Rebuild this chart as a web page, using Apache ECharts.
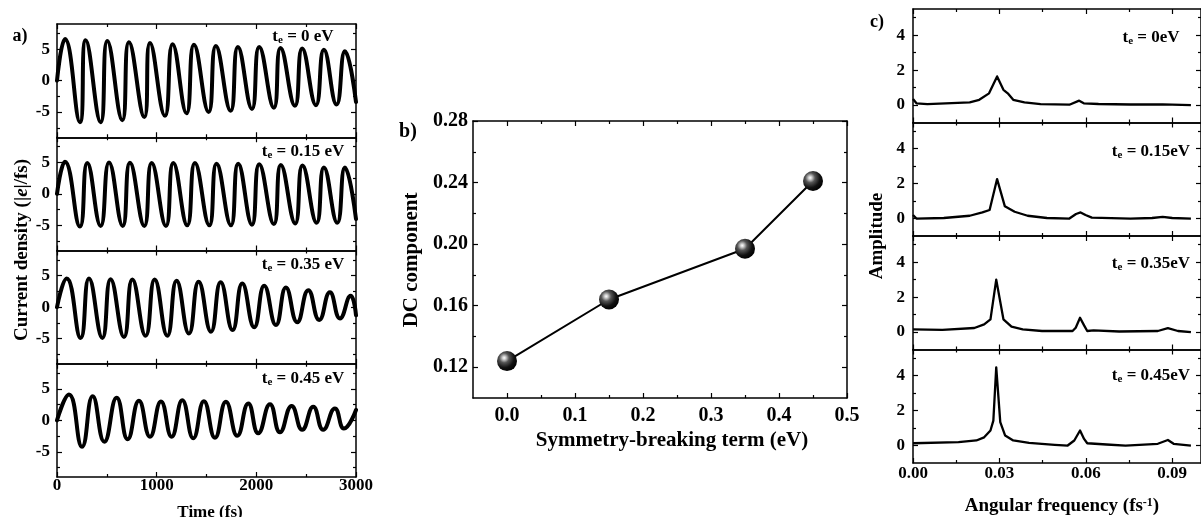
<!DOCTYPE html>
<html><head><meta charset="utf-8">
<script src="https://cdn.jsdelivr.net/npm/echarts@6/dist/echarts.min.js"></script>
<style>html,body{margin:0;padding:0;background:#fff}#c{width:1201px;height:517px}</style>
</head><body><div id="c"></div>
<script>
// ---------- DATA ----------
// Panel a: current density vs time (extrema)
const timeTe000 = [0, 80, 230, 288, 438, 505, 655, 722, 876, 933, 1083, 1160, 1300, 1374, 1521, 1594, 1742, 1815, 1956, 2029, 2176, 2243, 2387, 2460, 2598, 2678, 2805, 2889, 3000];
const currTe000 = [0, 6.6, -6.6, 6.4, -6.6, 6.3, -6.3, 6.1, -5.8, 6.0, -5.6, 5.8, -5.2, 5.7, -5.0, 5.5, -4.8, 5.35, -4.5, 5.35, -4.3, 5.2, -4.0, 5.1, -3.9, 4.9, -3.8, 4.65, -3.4];
const timeTe015 = [0, 80, 230, 304, 438, 522, 659, 732, 876, 950, 1093, 1167, 1307, 1384, 1528, 1601, 1745, 1818, 1956, 2029, 2176, 2246, 2390, 2463, 2605, 2678, 2812, 2889, 3000];
const currTe015 = [0, 5.1, -5.2, 4.9, -5.1, 5.0, -5.1, 4.95, -5.1, 4.9, -5.1, 4.9, -5.0, 4.9, -5.0, 4.8, -5.0, 4.8, -4.9, 4.7, -4.8, 4.6, -4.7, 4.5, -4.6, 4.2, -4.6, 4.2, -4.0];
const timeTe035 = [0, 97, 237, 321, 455, 538, 672, 756, 889, 980, 1107, 1200, 1324, 1421, 1545, 1642, 1762, 1859, 1979, 2079, 2197, 2297, 2410, 2521, 2631, 2738, 2839, 2946, 3000];
const currTe035 = [0, 4.55, -4.9, 4.55, -4.9, 4.45, -4.75, 4.4, -4.55, 4.4, -4.55, 4.2, -4.2, 4.05, -3.9, 3.95, -3.65, 3.75, -3.2, 3.4, -2.85, 3.1, -2.4, 2.7, -2.05, 2.35, -1.8, 1.8, -1.3];
const timeTe045 = [0, 120, 251, 358, 475, 599, 709, 822, 933, 1043, 1150, 1257, 1367, 1474, 1585, 1695, 1809, 1919, 2019, 2137, 2237, 2354, 2460, 2571, 2671, 2788, 2879, 3000];
const currTe045 = [0, 4.1, -4.2, 3.85, -3.4, 3.6, -3.0, 3.1, -2.6, 3.0, -2.6, 3.2, -2.85, 3.05, -2.75, 2.95, -2.45, 2.7, -2.05, 2.55, -1.9, 2.3, -1.5, 2.15, -1.5, 1.9, -1.3, 1.65];

// Panel b: DC component
const symTerm = [0, 0.15, 0.35, 0.45];
const dcComp = [0.124, 0.164, 0.197, 0.241];

// Panel c: amplitude spectra
const freqTe000 = [0, 0.0012, 0.005, 0.0197, 0.023, 0.0264, 0.0292, 0.0314, 0.0329, 0.0348, 0.0387, 0.0443, 0.0543, 0.0577, 0.0593, 0.0644, 0.0755, 0.0867, 0.0965];
const ampTe000 = [0.35, 0.1, 0.05, 0.15, 0.3, 0.67, 1.64, 0.87, 0.67, 0.3, 0.15, 0.05, 0.02, 0.25, 0.1, 0.06, 0.03, 0.04, 0.0];
const freqTe015 = [0, 0.0012, 0.0107, 0.0197, 0.0241, 0.0266, 0.0292, 0.0319, 0.0353, 0.0398, 0.0465, 0.0543, 0.0566, 0.0582, 0.0599, 0.0621, 0.0755, 0.083, 0.0867, 0.09, 0.0965];
const ampTe015 = [0.2, 0.0, 0.03, 0.16, 0.35, 0.49, 2.26, 0.7, 0.39, 0.16, 0.03, 0.0, 0.26, 0.35, 0.2, 0.05, 0.0, 0.03, 0.1, 0.03, 0.0];
const freqTe035 = [0, 0.0102, 0.0213, 0.0247, 0.0269, 0.0289, 0.0314, 0.0342, 0.0381, 0.0448, 0.0554, 0.0565, 0.058, 0.0594, 0.0605, 0.0627, 0.0716, 0.085, 0.0885, 0.092, 0.0965];
const ampTe035 = [0.15, 0.12, 0.23, 0.44, 0.73, 3.0, 0.73, 0.31, 0.15, 0.06, 0.06, 0.25, 0.82, 0.38, 0.06, 0.1, 0.03, 0.06, 0.22, 0.06, 0.0];
const freqTe045 = [0, 0.0158, 0.022, 0.0247, 0.0269, 0.0279, 0.0289, 0.0303, 0.032, 0.0348, 0.0403, 0.0492, 0.0537, 0.056, 0.058, 0.0594, 0.0605, 0.0672, 0.0738, 0.085, 0.0885, 0.0905, 0.0965];
const ampTe045 = [0.13, 0.19, 0.29, 0.47, 0.86, 1.43, 4.48, 1.34, 0.57, 0.29, 0.15, 0.04, 0.0, 0.29, 0.86, 0.38, 0.13, 0.06, 0.0, 0.1, 0.32, 0.1, 0.0];

// Labels and ticks
const teLabelsA = ['0 eV', '0.15 eV', '0.35 eV', '0.45 eV'];
const teLabelsC = ['0eV', '0.15eV', '0.35eV', '0.45eV'];
const ticksAxMajor = [0, 1000, 2000, 3000];
const ticksAxMinor = [500, 1500, 2500];
const ticksAyMajor = [-5, 0, 5];
const ticksAyMinor = [-7.5, -2.5, 2.5, 7.5];
const ticksBxMajor = [0, 0.1, 0.2, 0.3, 0.4, 0.5];
const ticksBxMinor = [0.05, 0.15, 0.25, 0.35, 0.45];
const ticksByMajor = [0.12, 0.16, 0.20, 0.24, 0.28];
const ticksByMinor = [0.14, 0.18, 0.22, 0.26];
const ticksCxMajor = [0, 0.03, 0.06, 0.09];
const ticksCxMinor = [0.015, 0.045, 0.075];
const ticksCyMajor = [0, 2, 4];
const ticksCyMinor = [1, 3, 5];

// ---------- BUILD ----------
const FONT = '"Liberation Serif", "Times New Roman", serif';
const grids = [], xAxes = [], yAxes = [], series = [], graphics = [];

function axisSet(list, gi, cfg, pos, major, showLabel) {
  list.push({
    type: 'value', gridIndex: gi, min: cfg.min, max: cfg.max, position: pos,
    splitLine: {show: false},
    axisLine: {show: major, onZero: false, lineStyle: {color: '#000', width: 1.5}},
    axisTick: {show: true, inside: true, length: major ? 5 : 3,
      customValues: major ? cfg.major : cfg.minor, lineStyle: {color: '#000', width: 1.2}},
    axisLabel: {show: showLabel, customValues: cfg.major, formatter: cfg.fmt,
      color: '#000', fontFamily: FONT, fontWeight: 'bold', fontSize: cfg.fs, margin: cfg.margin},
    silent: true
  });
  return list.length - 1;
}

function addPanel(rect, xCfg, yCfg, showXLabels) {
  const gi = grids.length;
  grids.push({left: rect.l, top: rect.t, width: rect.w, height: rect.h, containLabel: false});
  const xi = axisSet(xAxes, gi, xCfg, 'bottom', true, showXLabels);
  axisSet(xAxes, gi, xCfg, 'bottom', false, false);
  axisSet(xAxes, gi, xCfg, 'top', true, false);
  axisSet(xAxes, gi, xCfg, 'top', false, false);
  const yi = axisSet(yAxes, gi, yCfg, 'left', true, true);
  axisSet(yAxes, gi, yCfg, 'left', false, false);
  axisSet(yAxes, gi, yCfg, 'right', true, false);
  axisSet(yAxes, gi, yCfg, 'right', false, false);
  return {xi, yi};
}

function zip(a, b) { return a.map((v, i) => [v, b[i]]); }

function teText(x, y, val, fs) {
  graphics.push({
    type: 'text', x: x, y: y, silent: true,
    style: {
      text: '{t|t}{s|e}{n| = ' + val + '}',
      align: 'center', verticalAlign: 'middle',
      rich: {
        t: {fontFamily: FONT, fontWeight: 'bold', fontSize: fs, fill: '#000'},
        s: {fontFamily: FONT, fontWeight: 'bold', fontSize: Math.round(fs * 0.62), fill: '#000', verticalAlign: 'bottom'},
        n: {fontFamily: FONT, fontWeight: 'bold', fontSize: fs, fill: '#000'}
      }
    }
  });
}
function plainText(x, y, txt, fs, rot) {
  graphics.push({
    type: 'text', x: x, y: y, rotation: rot || 0, silent: true,
    style: {text: txt, align: 'center', verticalAlign: 'middle',
      font: 'bold ' + fs + 'px ' + FONT, fill: '#000'}
  });
}

// Panel a
const aX = {min: 0, max: 3000, major: ticksAxMajor, minor: ticksAxMinor, fmt: v => String(v), fs: 17, margin: 0};
const aY = {min: -9, max: 9, major: ticksAyMajor, minor: ticksAyMinor, fmt: v => String(v), fs: 17, margin: 7};
const aTimes = [timeTe000, timeTe015, timeTe035, timeTe045];
const aCurr = [currTe000, currTe015, currTe035, currTe045];
const aTops = [24, 137.25, 250.5, 363.75];
const aLabelY = [37, 152, 265, 379];
aTops.forEach((t, k) => {
  const ix = addPanel({l: 57, t: t, w: 299, h: 113.25}, aX, aY, k === 3);
  series.push({type: 'line', xAxisIndex: ix.xi, yAxisIndex: ix.yi, data: zip(aTimes[k], aCurr[k]),
    showSymbol: false, smooth: 0.5, lineStyle: {color: '#000', width: 4, cap: 'round', join: 'round'}, silent: true});
  teText(303, aLabelY[k], teLabelsA[k], 17);
});

// Panel b
const bX = {min: -0.05, max: 0.5, major: ticksBxMajor, minor: ticksBxMinor, fmt: v => v.toFixed(1), fs: 20, margin: 8};
const bY = {min: 0.10, max: 0.28, major: ticksByMajor, minor: ticksByMinor, fmt: v => v.toFixed(2), fs: 20, margin: 5};
const ib = addPanel({l: 473, t: 121, w: 374, h: 277}, bX, bY, true);
series.push({type: 'line', xAxisIndex: ib.xi, yAxisIndex: ib.yi, data: zip(symTerm, dcComp),
  symbol: 'circle', symbolSize: 20, showSymbol: true,
  lineStyle: {color: '#000', width: 2},
  itemStyle: {borderWidth: 0, color: {type: 'radial', x: 0.36, y: 0.34, r: 0.7,
    colorStops: [{offset: 0, color: '#ffffff'}, {offset: 0.12, color: '#cfcfcf'}, {offset: 0.35, color: '#555'},
                 {offset: 0.7, color: '#111'}, {offset: 1, color: '#000'}]}},
  silent: true});

// Panel c
const cX = {min: 0, max: 0.1, major: ticksCxMajor, minor: ticksCxMinor, fmt: v => v.toFixed(2), fs: 17, margin: 2};
const cY = {min: -1, max: 5.5, major: ticksCyMajor, minor: ticksCyMinor, fmt: v => String(v), fs: 17, margin: 8};
const cFreq = [freqTe000, freqTe015, freqTe035, freqTe045];
const cAmp = [ampTe000, ampTe015, ampTe035, ampTe045];
const cTops = [9, 122.5, 236, 349.5];
const cLabelY = [38, 152, 264, 376];
cTops.forEach((t, k) => {
  const ix = addPanel({l: 913, t: t, w: 298.7, h: 113.5}, cX, cY, k === 3);
  series.push({type: 'line', xAxisIndex: ix.xi, yAxisIndex: ix.yi, data: zip(cFreq[k], cAmp[k]),
    showSymbol: false, smooth: false, lineStyle: {color: '#000', width: 2.3, join: 'round'}, silent: true});
  teText(1151, cLabelY[k], teLabelsC[k], 17);
});

// Panel letters and axis titles
plainText(20, 36, 'a)', 18);
plainText(408, 132, 'b)', 20);
plainText(877, 22, 'c)', 18);
plainText(210, 513, 'Time (fs)', 17);
graphics.push({type: 'text', x: 22, y: 250, rotation: Math.PI / 2, silent: true,
  style: {text: '{n|Current density (|}{i|e}{n||/fs)}', align: 'center', verticalAlign: 'middle',
    rich: {n: {fontFamily: FONT, fontWeight: 'bold', fontSize: 19, fill: '#000'},
           i: {fontFamily: FONT, fontWeight: 'bold', fontStyle: 'italic', fontSize: 19, fill: '#000'}}}});
plainText(412, 260, 'DC component', 21, Math.PI / 2);
plainText(672, 441, 'Symmetry-breaking term (eV)', 21);
plainText(877, 236, 'Amplitude', 19, Math.PI / 2);
graphics.push({type: 'text', x: 1062, y: 506, silent: true,
  style: {text: '{n|Angular frequency (fs}{s|-1}{n|)}', align: 'center', verticalAlign: 'middle',
    rich: {n: {fontFamily: FONT, fontWeight: 'bold', fontSize: 19, fill: '#000'},
           s: {fontFamily: FONT, fontWeight: 'bold', fontSize: 12, fill: '#000', verticalAlign: 'top'}}}});

const chart = echarts.init(document.getElementById('c'), null, {renderer: 'canvas'});
chart.setOption({
  animation: false,
  backgroundColor: '#fff',
  grid: grids, xAxis: xAxes, yAxis: yAxes, series: series,
  graphic: {elements: graphics}
});
</script></body></html>
